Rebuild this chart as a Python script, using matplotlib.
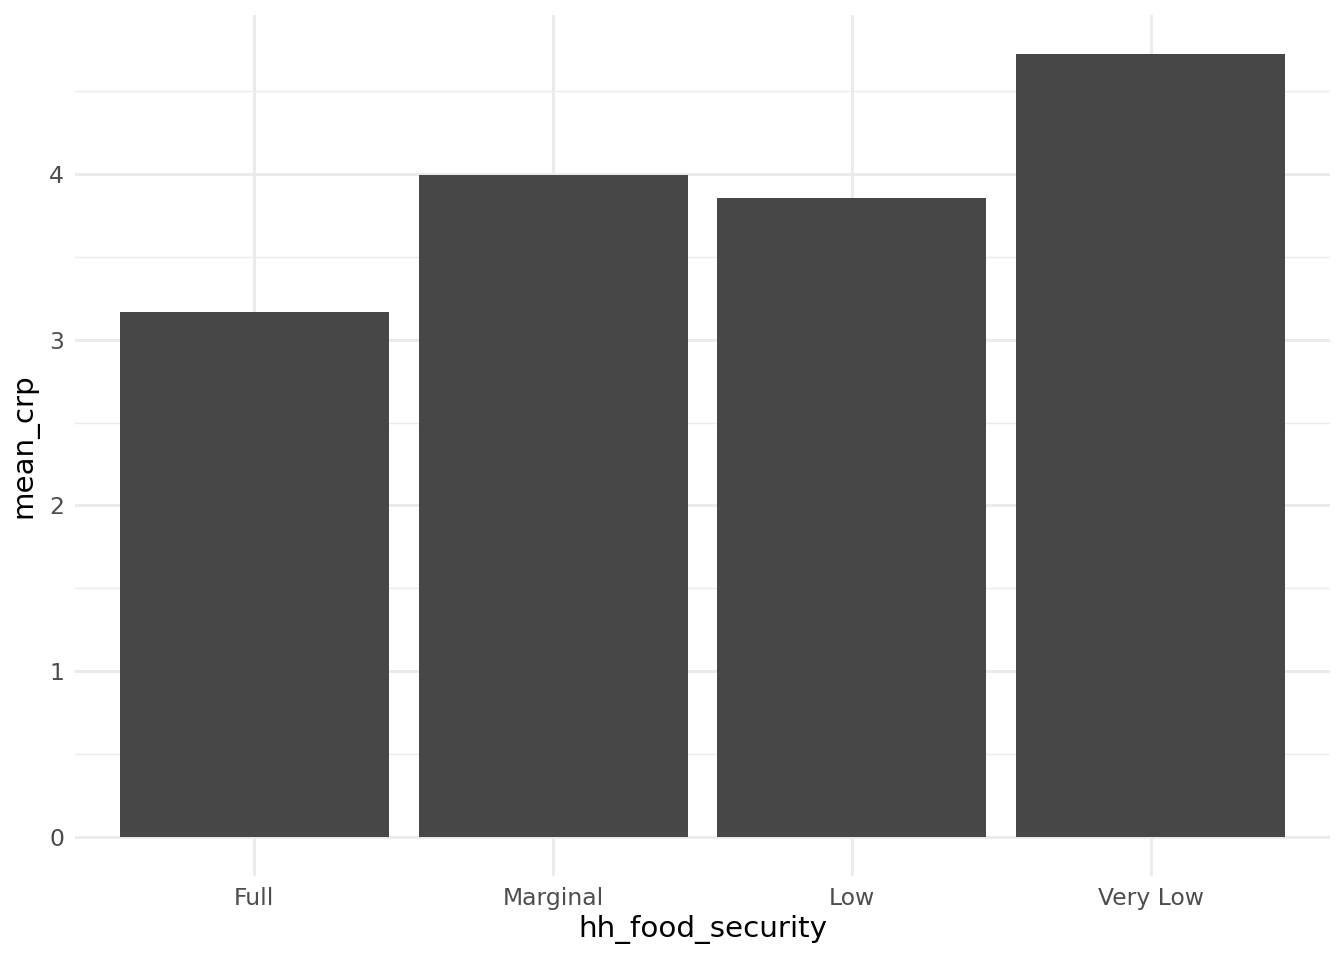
import matplotlib
matplotlib.use("Agg")
import matplotlib.pyplot as plt

categories = ["Full", "Marginal", "Low", "Very Low"]
mean_crp = [3.167, 3.994, 3.855, 4.724]

fig = plt.figure(figsize=(7, 5), dpi=192)
ax = fig.add_axes([75/1344, 84/960, 1255/1344, 861/960])

x = range(len(categories))
ax.bar(x, mean_crp, width=0.9, color="#474747", zorder=3)

ax.set_xlim(-0.6, 3.6)
ax.set_ylim(-0.236, 4.96)
ax.set_xticks(list(x))
ax.set_xticklabels(categories)
ax.set_yticks([0, 1, 2, 3, 4])
ax.set_yticks([0.5, 1.5, 2.5, 3.5, 4.5], minor=True)
ax.grid(True, which="major", color="#ebebeb", linewidth=1.1, zorder=0)
ax.grid(True, which="minor", axis="y", color="#ebebeb", linewidth=0.55, zorder=0)
for s in ax.spines.values():
    s.set_visible(False)
ax.tick_params(which="both", length=0, labelsize=8.8, labelcolor="#4d4d4d", pad=4)
ax.set_xlabel("hh_food_security", fontsize=11, labelpad=2)
ax.set_ylabel("mean_crp", fontsize=11, labelpad=4)

fig.savefig("out.png", dpi=192, facecolor="white")
